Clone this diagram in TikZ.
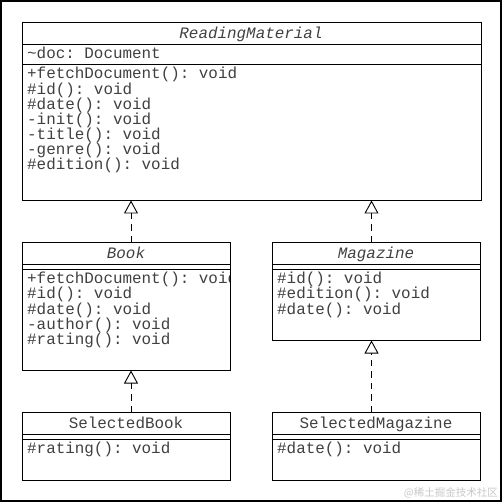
\documentclass[tikz,border=0pt]{standalone}
\usepackage{fontspec}
\setmonofont{Liberation Mono}
\newfontfamily\cjk{Noto Sans CJK SC}
\usetikzlibrary{arrows.meta}
\tikzset{
  box/.style={draw=black, line width=1pt},
  sep/.style={draw=black, line width=0.9pt},
  txt/.style={anchor=mid west, inner sep=0pt, yshift=-3pt, text=black!75, font=\ttfamily\fontsize{15.9}{15}\selectfont},
  ttl/.style={anchor=mid, inner sep=0pt, yshift=-3pt, text=black!75, font=\ttfamily\fontsize{15.9}{15}\selectfont},
  real/.style={draw=black, line width=0.9pt, dash pattern=on 6.5pt off 5pt,
    -{Triangle[open, width=14pt, length=13pt, line width=0.9pt]}},
}
\begin{document}
\begin{tikzpicture}[x=1pt, y=-1pt]
\useasboundingbox (0,0) rectangle (502,502);
\draw[line width=1.6pt] (0.8,0.8) rectangle (501.2,501.2);

% ReadingMaterial
\node[box, minimum width=459pt, minimum height=178pt, anchor=north west, inner sep=0pt] (rm) at (22,22) {};
\draw[sep] (22,44) -- (481,44);
\draw[sep] (22,64) -- (481,64);
\node[ttl] (rmname) at (251,33) {\itshape ReadingMaterial};
\node[txt] (rma1) at (27,53) {\textasciitilde doc: Document};
\node[txt] (rmm1) at (27,73) {+fetchDocument(): void};
\node[txt] (rmm2) at (27,89) {\#id(): void};
\node[txt] (rmm3) at (27,104) {\#date(): void};
\node[txt] (rmm4) at (27,119) {-init(): void};
\node[txt] (rmm5) at (27,134) {-title(): void};
\node[txt] (rmm6) at (27,149) {-genre(): void};
\node[txt] (rmm7) at (27,164) {\#edition(): void};

% Book
\node[box, minimum width=208pt, minimum height=128pt, anchor=north west, inner sep=0pt] (book) at (22,242) {};
\draw[sep] (22,264) -- (230,264);
\draw[sep] (22,269) -- (230,269);
\node[ttl] (bookname) at (126,253) {\itshape Book};
\begin{scope}
\clip (22,242) rectangle (229.5,370);
\node[txt] (bm1) at (27,278) {+fetchDocument(): void};
\end{scope}
\node[txt] (bm2) at (27,293) {\#id(): void};
\node[txt] (bm3) at (27,309) {\#date(): void};
\node[txt] (bm4) at (27,324) {-author(): void};
\node[txt] (bm5) at (27,339) {\#rating(): void};

% Magazine
\node[box, minimum width=208pt, minimum height=98pt, anchor=north west, inner sep=0pt] (mag) at (272,242) {};
\draw[sep] (272,264) -- (480,264);
\draw[sep] (272,269) -- (480,269);
\node[ttl] (magname) at (376,253) {\itshape Magazine};
\node[txt] (mm1) at (277,278) {\#id(): void};
\node[txt] (mm2) at (277,293) {\#edition(): void};
\node[txt] (mm3) at (277,309) {\#date(): void};

% SelectedBook
\node[box, minimum width=208pt, minimum height=68pt, anchor=north west, inner sep=0pt] (sbook) at (22,412) {};
\draw[sep] (22,434) -- (230,434);
\draw[sep] (22,439) -- (230,439);
\node[ttl] (sbookname) at (126,423) {SelectedBook};
\node[txt] (sbm1) at (27,448) {\#rating(): void};

% SelectedMagazine
\node[box, minimum width=208pt, minimum height=68pt, anchor=north west, inner sep=0pt] (smag) at (272,412) {};
\draw[sep] (272,434) -- (480,434);
\draw[sep] (272,439) -- (480,439);
\node[ttl] (smagname) at (376,423) {SelectedMagazine};
\node[txt] (smm1) at (277,448) {\#date(): void};

% Realizations
\draw[real] (book.north -| 131,0) -- (131,200.5);
\draw[real] (mag.north -| 371.5,0) -- (371.5,200.5);
\draw[real] (sbook.north -| 131,0) -- (131,370.5);
\draw[real] (smag.north -| 371.5,0) -- (371.5,340.5);

% watermark
\node[anchor=east, inner sep=0pt, text=black!22, font=\cjk\fontsize{10.5}{12}\selectfont] (wm) at (498,493) {@稀土掘金技术社区};
\end{tikzpicture}
\end{document}
